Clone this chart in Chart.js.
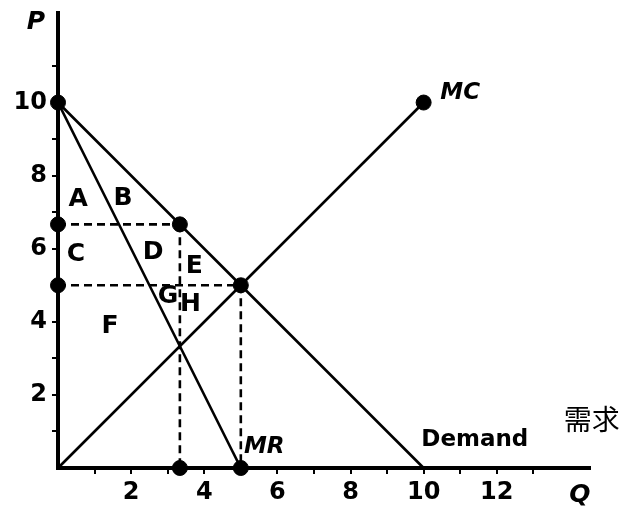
<!DOCTYPE html>
<html><head><meta charset="utf-8">
<script src="https://cdn.jsdelivr.net/npm/chart.js@4.4.1/dist/chart.umd.min.js"></script>
<style>html,body{margin:0;padding:0;background:#fff}#wrap{width:624px;height:513px}</style>
</head><body><div id="wrap"><canvas id="c" width="624" height="513"></canvas></div>
<script>
// Data
const demandQ = [0, 10], demandP = [10, 0];
const mrQ = [0, 5], mrP = [10, 0];
const mcQ = [0, 10], mcP = [0, 10];
const monoQ = 10/3, monoP = 20/3;   // monopoly output / price
const compQ = 5, compP = 5;          // competitive output / price
const xTickValues = [1,2,3,4,5,6,7,8,9,10,11,12,13];
const yTickValues = [1,2,3,4,5,6,7,8,9,10,11];
const regionLabels = ['A','B','C','D','E','G','H','F'];
const regionQ = [0.55, 1.78, 0.49, 2.60, 3.73, 3.01, 3.62, 1.42];
const regionP = [7.34, 7.37, 5.84, 5.89, 5.51, 4.68, 4.47, 3.86];
const curveLabels = ['MC','MR','Demand','需求'];
const curveLabelQ = [11.0, 5.64, 11.4, 14.6];
const curveLabelP = [10.27, 0.58, 0.77, 1.32];

const pts = (qs, ps) => qs.map((q,i)=>({x:q, y:ps[i]}));
const solid = {borderColor:'#000', borderWidth:2.6, pointRadius:0, showLine:true, fill:false, clip:false};
const dashed = Object.assign({}, solid, {borderDash:[8,5]});

const textPlugin = {
  id:'texts',
  afterDatasetsDraw(chart){
    const ctx = chart.ctx, xs = chart.scales.x, ys = chart.scales.y, ca = chart.chartArea;
    ctx.save();
    ctx.fillStyle = '#000';
    ctx.textAlign = 'center'; ctx.textBaseline = 'middle';
    ctx.font = 'bold 25px "DejaVu Sans"';
    regionLabels.forEach((t,i)=>ctx.fillText(t, xs.getPixelForValue(regionQ[i]), ys.getPixelForValue(regionP[i])));
    curveLabels.forEach((t,i)=>{
      if (t==='MC'||t==='MR') ctx.font = 'italic bold 23px "DejaVu Sans"';
      else if (t==='Demand') ctx.font = 'bold 23px "DejaVu Sans"';
      else ctx.font = '28px "Noto Sans CJK SC"';
      ctx.fillText(t, xs.getPixelForValue(curveLabelQ[i]), ys.getPixelForValue(curveLabelP[i]));
    });
    ctx.font = 'italic bold 25px "DejaVu Sans"';
    ctx.fillText('P', ca.left - 22, ca.top + 9);
    ctx.fillText('Q', ca.right - 10, ca.bottom + 27);
    ctx.restore();
  }
};

new Chart(document.getElementById('c'), {
  type:'scatter',
  data:{datasets:[
    Object.assign({data:pts([0,monoQ],[monoP,monoP])}, dashed),
    Object.assign({data:pts([monoQ,monoQ],[monoP,0])}, dashed),
    Object.assign({data:pts([0,compQ],[compP,compP])}, dashed),
    Object.assign({data:pts([compQ,compQ],[compP,0])}, dashed),
    Object.assign({data:pts(demandQ,demandP)}, solid),
    Object.assign({data:pts(mrQ,mrP)}, solid),
    Object.assign({data:pts(mcQ,mcP)}, solid),
    {data:pts([0,0,0,monoQ,compQ,monoQ,compQ,mcQ[1]],[demandP[0],monoP,compP,monoP,compP,0,0,mcP[1]]),
     showLine:false, pointRadius:7.5, pointHoverRadius:7.5, backgroundColor:'#000', borderColor:'#000', clip:false}
  ]},
  options:{
    responsive:false, animation:false,
    layout:{padding:{top:13, right:34, left:0, bottom:0}},
    plugins:{legend:{display:false}, tooltip:{enabled:false}},
    scales:{
      x:{type:'linear', min:0, max:14.55,
        afterBuildTicks(s){ s.ticks = xTickValues.map(v=>({value:v})); },
        afterFit(s){ s.height = 45; s.paddingLeft = 0; s.paddingRight = 0; },
        border:{display:true, color:'#000', width:4},
        grid:{drawOnChartArea:false, drawTicks:true, tickLength:6, color:'#000', lineWidth:2},
        ticks:{color:'#000', padding:4, maxRotation:0, autoSkip:false,
          font:{family:'"DejaVu Sans"', weight:'bold', size:24},
          callback:(v)=> v%2===0 ? String(v) : ''}
      },
      y:{type:'linear', min:0, max:12.45,
        afterBuildTicks(s){ s.ticks = yTickValues.map(v=>({value:v})); },
        afterFit(s){ s.width = 58; s.paddingTop = 0; s.paddingBottom = 0; },
        border:{display:true, color:'#000', width:4},
        grid:{drawOnChartArea:false, drawTicks:true, tickLength:6, color:'#000', lineWidth:2},
        ticks:{color:'#000', padding:5, autoSkip:false,
          font:{family:'"DejaVu Sans"', weight:'bold', size:24},
          callback:(v)=> v%2===0 ? String(v) : ''}
      }
    }
  },
  plugins:[textPlugin]
});
</script></body></html>
